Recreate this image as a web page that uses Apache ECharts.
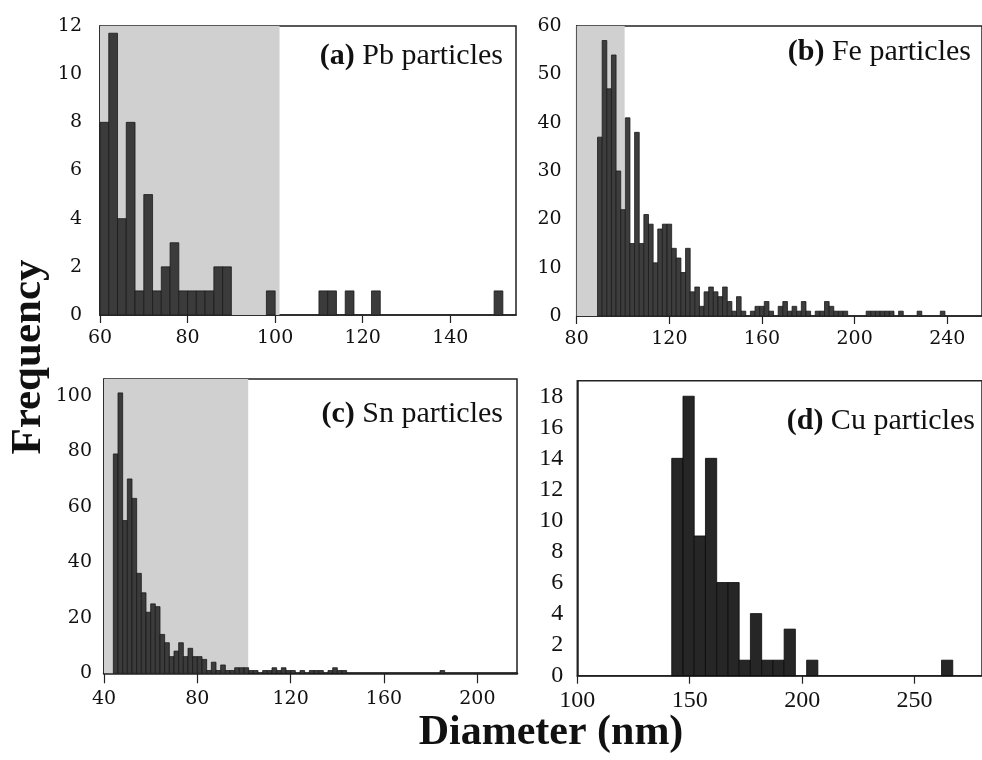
<!DOCTYPE html>
<html><head><meta charset="utf-8">
<script src="https://cdn.jsdelivr.net/npm/echarts@6/dist/echarts.min.js"></script>
<style>html,body{margin:0;padding:0;background:#fff}#c{width:982px;height:760px}</style>
</head><body><div id="c"></div>
<script>
// ---- data (counts per size bin) ----
const pbBinStart = 60, pbBinWidth = 2;
const pbCounts = [8,11.7,4,8,1,5,1,2,3,1,1,1,1,2,2, 0,0,0,0,1, 0,0,0,0,0, 1,1,0,1,0, 0,1,0,0,0, 0,0,0,0,0, 0,0,0,0,0, 1];

const feBinStart = 89, feBinWidth = 2;
const feCounts = [37,57,47,54,30,22,41,15,38,15, 21,19,11,18,19,19,14,12,9,14, 5,6,2,5,6,5,4,6,3,1, 4,1,0,1,2,2,3,1,0,2, 3,1,2,1,3,1,0,1,1,3, 2,1,1,1,0,0,0,0,1,1, 1,1,1,1,0,1,0,0,0,1, 0,0,0,0,1];

const snBinStart = 44, snBinWidth = 2;
const snCounts = [79,101,55,70,63,36,29,22,25,24, 14,11,6,8,11,6,9,6,6,5, 1,4,1,3,1,1,2,2,2,1, 1,0,1,1,2,1,2,1,1,0, 1,0,1,1,1,0,1,2,1,1, 0,0,0,0,0,0,0,0,0,0, 0,0,0,0,0,0,0,0,0,0, 1];

const cuBinStart = 142, cuBinWidth = 5;
const cuCounts = [14,18,9,14,6,6,1,4,1,1,3,0,1, 0,0,0,0,0,0,0,0,0,0,0, 1];

// shaded size ranges (nm)
const pbShade = [60, 101];
const feShade = [80, 100.7];
const snShade = [40, 101.8];

const panelTitles = ['(a)', '(b)', '(c)', '(d)'];
const panelNames = ['Pb particles', 'Fe particles', 'Sn particles', 'Cu particles'];
const xAxisName = 'Diameter (nm)';
const yAxisName = 'Frequency';

// ---- helpers ----
function bins(start, width, counts) {
  const out = [];
  counts.forEach((c, i) => { if (c > 0) out.push([start + i * width, start + (i + 1) * width, c]); });
  return out;
}
function rectItem(params, api) {
  const p0 = api.coord([api.value(0), api.value(2)]);
  const p1 = api.coord([api.value(1), 0]);
  return { type: 'rect', shape: { x: p0[0], y: p0[1], width: p1[0] - p0[0], height: p1[1] - p0[1] },
           style: api.style() };
}
function histSeries(idx, data, fill, stroke) {
  return { type: 'custom', xAxisIndex: idx, yAxisIndex: idx, renderItem: rectItem, data: data,
           encode: { x: [0, 1], y: 2 }, z: 3, silent: true,
           itemStyle: { color: fill, borderColor: stroke, borderWidth: 0.8 } };
}
function shadeSeries(idx, range, top) {
  return { type: 'custom', xAxisIndex: idx, yAxisIndex: idx, renderItem: rectItem,
           data: [[range[0], range[1], top]], encode: { x: [0, 1], y: 2 }, z: 1, silent: true,
           itemStyle: { color: '#d0d0d0' } };
}
const AX = '#222';
function xAx(gi, min, max, interval, font, size, margin, tickLen, lw) {
  return { type: 'value', gridIndex: gi, min: min, max: max, interval: interval,
    axisLine: { show: true, onZero: false, lineStyle: { color: AX, width: lw } },
    axisTick: { show: true, length: tickLen, lineStyle: { color: AX, width: 1.2 } },
    splitLine: { show: false },
    axisLabel: { fontFamily: font, fontSize: size, color: '#111', margin: margin, showMaxLabel: false } };
}
function yAx(gi, max, interval, font, size, margin, showMax, tickInside) {
  return { type: 'value', gridIndex: gi, min: 0, max: max, interval: interval,
    axisLine: { show: true, lineStyle: { color: AX, width: 1.5 } },
    axisTick: { show: tickInside, inside: true, length: 3, lineStyle: { color: AX, width: 1 } },
    splitLine: { show: false },
    axisLabel: { fontFamily: font, fontSize: size, color: '#111', margin: margin, showMaxLabel: showMax } };
}
const gridBase = { show: true, borderColor: AX, borderWidth: 1.5, backgroundColor: 'transparent' };
function title(i, right, top) {
  return { text: '{b|' + panelTitles[i] + '} ' + panelNames[i], right: right, top: top, padding: 0,
    textStyle: { fontFamily: 'Liberation Serif', fontSize: 30, fontWeight: 'normal', color: '#111',
      rich: { b: { fontFamily: 'Liberation Serif', fontSize: 30, fontWeight: 'bold', color: '#111' } } } };
}

const chart = echarts.init(document.getElementById('c'), null, { renderer: 'canvas' });
chart.setOption({
  animation: false,
  backgroundColor: '#fff',
  title: [title(0, 479, 41), title(1, 11, 37), title(2, 479, 399), title(3, 7, 406)],
  grid: [
    Object.assign({ left: 100, top: 26, width: 416, height: 289 }, gridBase),
    Object.assign({ left: 576.7, top: 26, width: 406, height: 290 }, gridBase),
    Object.assign({ left: 104, top: 379, width: 413, height: 294.3 }, gridBase),
    Object.assign({ left: 577.3, top: 380.7, width: 405.7, height: 295 }, gridBase)
  ],
  xAxis: [
    xAx(0, 60, 155, 20, 'DejaVu Serif', 19, 14, 8, 1.5),
    xAx(1, 80, 255, 40, 'DejaVu Serif', 19, 14, 8, 1.5),
    xAx(2, 40, 217, 40, 'DejaVu Serif', 19, 16, 10, 2.5),
    xAx(3, 100, 280, 50, 'Liberation Serif', 24, 13, 8, 1.5)
  ],
  yAxis: [
    yAx(0, 12, 2, 'DejaVu Serif', 19, 18, true, false),
    yAx(1, 60, 10, 'DejaVu Serif', 19, 15, true, false),
    yAx(2, 106, 20, 'DejaVu Serif', 19, 12, false, true),
    yAx(3, 19, 2, 'Liberation Serif', 24, 14, false, false)
  ],
  series: [
    shadeSeries(0, pbShade, 12),
    shadeSeries(1, feShade, 60),
    shadeSeries(2, snShade, 106),
    histSeries(0, bins(pbBinStart, pbBinWidth, pbCounts), '#3b3b3b', '#1a1a1a'),
    histSeries(1, bins(feBinStart, feBinWidth, feCounts), '#3d3d3d', '#1c1c1c'),
    histSeries(2, bins(snBinStart, snBinWidth, snCounts), '#3b3b3b', '#1a1a1a'),
    histSeries(3, bins(cuBinStart, cuBinWidth, cuCounts), '#262626', '#0a0a0a')
  ],
  graphic: [
    { type: 'text', x: 29, y: 357, rotation: Math.PI / 2,
      style: { text: yAxisName, fontFamily: 'Liberation Serif', fontSize: 43, fontWeight: 'bold',
               fill: '#111', textAlign: 'center', textVerticalAlign: 'middle' } },
    { type: 'text', x: 551, y: 733,
      style: { text: xAxisName, fontFamily: 'Liberation Serif', fontSize: 42, fontWeight: 'bold',
               fill: '#111', textAlign: 'center', textVerticalAlign: 'middle' } }
  ]
});
</script>
</body></html>
